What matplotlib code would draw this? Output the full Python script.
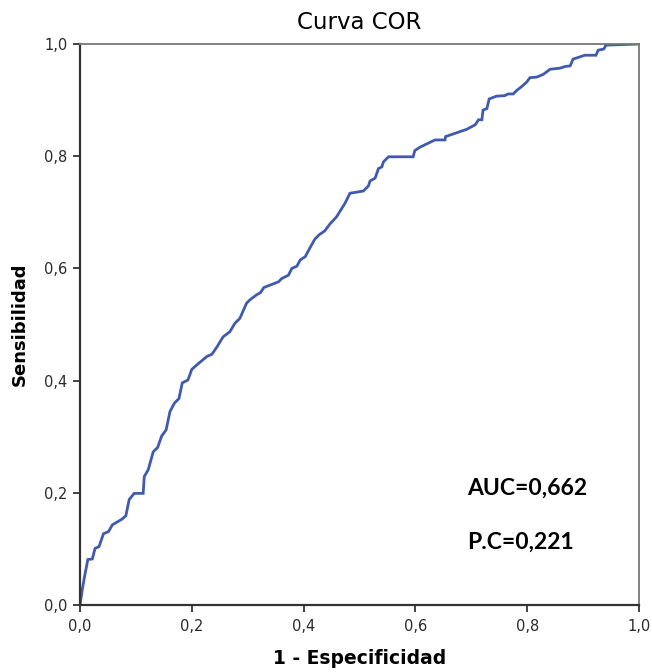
import numpy as np
import matplotlib
matplotlib.use("Agg")
import matplotlib.pyplot as plt

## puntos de la curva COR (1 - especificidad, sensibilidad)
fpr = [0.0, 0.004, 0.008, 0.014, 0.022, 0.027, 0.034, 0.042, 0.051, 0.058,
       0.075, 0.082, 0.088, 0.097, 0.113, 0.115, 0.122, 0.131, 0.139, 0.146,
       0.154, 0.161, 0.169, 0.177, 0.183, 0.193, 0.200, 0.209, 0.227, 0.236,
       0.245, 0.256, 0.268, 0.277, 0.286, 0.298, 0.304, 0.316, 0.323, 0.329,
       0.355, 0.361, 0.373, 0.379, 0.388, 0.394, 0.403, 0.411, 0.420, 0.428,
       0.438, 0.447, 0.459, 0.474, 0.483, 0.507, 0.516, 0.519, 0.528, 0.534,
       0.540, 0.543, 0.552, 0.596, 0.599, 0.608, 0.635, 0.653, 0.654, 0.692,
       0.707, 0.713, 0.719, 0.721, 0.728, 0.732, 0.745, 0.760, 0.766, 0.775,
       0.781, 0.790, 0.799, 0.805, 0.817, 0.829, 0.841, 0.859, 0.868, 0.877,
       0.882, 0.891, 0.903, 0.923, 0.927, 0.937, 0.941, 1.0]
tpr = [0.0, 0.027, 0.050, 0.081, 0.082, 0.101, 0.104, 0.127, 0.131, 0.143,
       0.153, 0.159, 0.188, 0.199, 0.199, 0.229, 0.241, 0.273, 0.281, 0.301,
       0.312, 0.345, 0.360, 0.368, 0.396, 0.401, 0.420, 0.428, 0.443, 0.447,
       0.460, 0.478, 0.487, 0.502, 0.511, 0.538, 0.544, 0.553, 0.557, 0.566,
       0.576, 0.582, 0.588, 0.600, 0.604, 0.615, 0.621, 0.636, 0.652, 0.660,
       0.667, 0.679, 0.692, 0.716, 0.734, 0.738, 0.747, 0.756, 0.761, 0.778,
       0.781, 0.790, 0.799, 0.799, 0.810, 0.816, 0.829, 0.829, 0.835, 0.848,
       0.856, 0.865, 0.865, 0.882, 0.885, 0.902, 0.907, 0.908, 0.911, 0.911,
       0.917, 0.924, 0.932, 0.940, 0.941, 0.946, 0.955, 0.957, 0.960, 0.961,
       0.973, 0.976, 0.980, 0.980, 0.989, 0.991, 0.998, 1.0]

auc_txt = "AUC=0,662"
pc_txt = "P.C=0,221"
ticks = [0.0, 0.2, 0.4, 0.6, 0.8, 1.0]
tick_labels = ["0,0", "0,2", "0,4", "0,6", "0,8", "1,0"]

plt.rcParams['font.family'] = ['DejaVu Sans']

fig = plt.figure(figsize=(6.52, 6.72), dpi=100)
ax = fig.add_axes([0.1227, 0.0997, 0.8573, 0.8348])

ax.plot(fpr, tpr, color='#3f5aae', lw=2.0, solid_joinstyle='miter')

ax.set_xlim(0, 1)
ax.set_ylim(0, 1)
ax.set_xticks(ticks)
ax.set_xticklabels(tick_labels)
ax.set_yticks(ticks)
ax.set_yticklabels(tick_labels)
ax.tick_params(direction='out', length=5, width=1.3, color='#333333',
               labelsize=10.5, labelcolor='#2a2a2a')
ax.tick_params(axis='x', pad=5)
ax.tick_params(axis='y', pad=4)

for s in ['left', 'bottom']:
        ax.spines[s].set_color('#333333')
        ax.spines[s].set_linewidth(1.6)
for s in ['top', 'right']:
        ax.spines[s].set_color('#777777')
        ax.spines[s].set_linewidth(1.3)

ax.set_title("Curva COR", fontsize=16.5, y=1.039, pad=0, va='center')
ax.set_xlabel("1 - Especificidad", fontsize=13.5, fontweight='bold', va='center')
ax.xaxis.set_label_coords(0.5, -0.096)
ax.set_ylabel("Sensibilidad", fontsize=13, fontweight='bold', va='center')
ax.yaxis.set_label_coords(-0.107, 0.5)

ax.text(0.692, 0.209, auc_txt, fontsize=16.5, fontweight='bold',
        family=['Lato', 'DejaVu Sans'], va='center', ha='left')
ax.text(0.692, 0.112, pc_txt, fontsize=16.5, fontweight='bold',
        family=['Lato', 'DejaVu Sans'], va='center', ha='left')

fig.savefig("out.png", dpi=100)
